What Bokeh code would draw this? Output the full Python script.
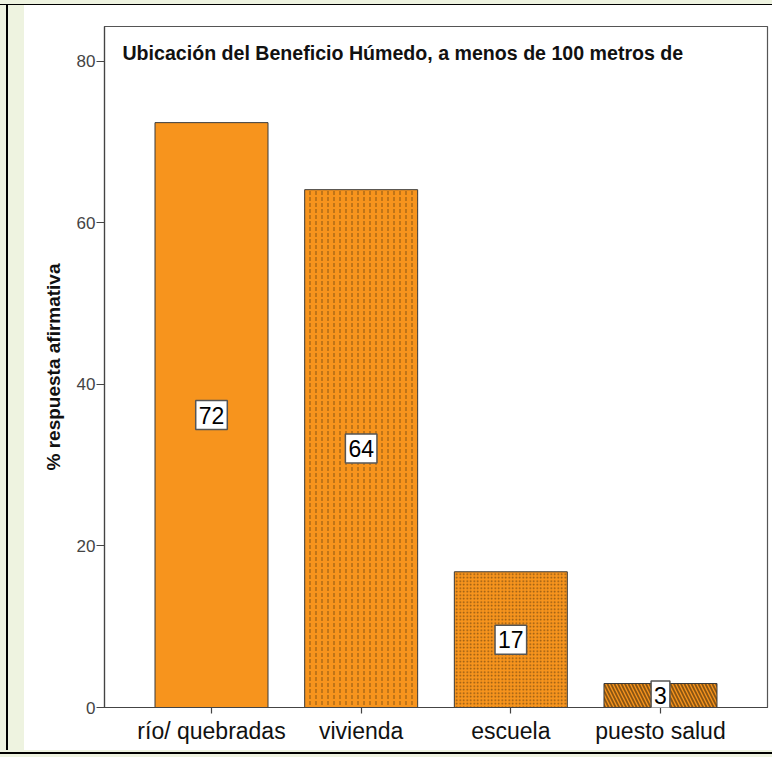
from bokeh.plotting import figure
from bokeh.models import ColumnDataSource, Label, FactorRange, Spacer
from bokeh.layouts import row, column
from bokeh.embed import file_html
from bokeh.resources import INLINE

categories = ["río/ quebradas", "vivienda", "escuela", "puesto salud"]
values = [72.4, 64.1, 16.8, 2.97]
labels = ["72", "64", "17", "3"]
hatches = [" ", "vertical_dash", "dot", "left_diagonal_line"]
hatch_scales = [12, 6, 3.5, 7]
hatch_weights = [1, 1.0, 1.1, 1.8]
y_ticks = [0, 20, 40, 60, 80]
title_text = "Ubicación del Beneficio Húmedo, a menos de 100 metros de"
y_label = "% respuesta afirmativa"

src = ColumnDataSource(dict(cat=categories, val=values,
                            hatch=hatches, hs=hatch_scales, hw=hatch_weights))

FONT = "Liberation Sans"
ORANGE = "#F7941D"
GREEN = "#EEF3E0"

p = figure(width=748, height=745, output_backend="svg", toolbar_location=None,
           x_range=FactorRange(factors=categories, range_padding=0.1075),
           y_range=(0, 84.3), min_border_left=80, min_border_right=5,
           min_border_top=21, min_border_bottom=43,
           background_fill_color="white", border_fill_color="white")
p.outline_line_color = "#555555"
p.outline_line_width = 1.2
p.xgrid.visible = False
p.ygrid.visible = False

p.vbar(x="cat", top="val", width=0.755, source=src, fill_color=ORANGE,
       line_color="#3a3a3a", line_width=1,
       hatch_pattern="hatch", hatch_scale="hs", hatch_weight="hw",
       hatch_color="#6e4510", hatch_alpha=0.8)

# value labels at half bar height, centred on each category (synthetic coords i+0.5)
for i, (v, t) in enumerate(zip(values, labels)):
    p.add_layout(Label(x=i + 0.5, y=v / 2, text=t, text_align="center",
                       text_baseline="middle", text_font=FONT, text_font_size="23px",
                       text_color="black", background_fill_color="white",
                       border_line_color="#555555", border_line_width=1.5,
                       padding=(3, 6)))

p.add_layout(Label(x=-0.095, y=81.0, text=title_text, text_font=FONT,
                   text_font_size="19.6px", text_font_style="bold",
                   text_baseline="middle", text_color="#111111"))

p.yaxis.ticker = y_ticks
p.yaxis.axis_label = y_label
p.yaxis.axis_label_text_font = FONT
p.yaxis.axis_label_text_font_size = "19px"
p.yaxis.axis_label_text_font_style = "bold"
p.yaxis.axis_label_text_color = "#111111"
p.yaxis.axis_label_standoff = 10
p.yaxis.major_label_text_font = FONT
p.yaxis.major_label_text_font_size = "17px"
p.yaxis.major_label_text_color = "#444444"
p.yaxis.minor_tick_line_color = None
p.yaxis.major_tick_in = 0
p.yaxis.major_tick_out = 8
p.yaxis.major_label_standoff = 1

p.xaxis.major_label_text_font = FONT
p.xaxis.major_label_text_font_size = "23px"
p.xaxis.major_label_text_color = "#111111"
p.xaxis.major_tick_in = 0
p.xaxis.major_tick_out = 6
p.xaxis.major_label_standoff = 4

for ax in (p.xaxis, p.yaxis):
    ax.axis_line_color = "#444444"
    ax.axis_line_width = 1.2
    ax.major_tick_line_color = "#444444"
    ax.major_tick_line_width = 1.2

top = Spacer(width=772, height=5, styles={
    "background": f"linear-gradient(to bottom, {GREEN} 0px, {GREEN} 4px, black 4px, black 5px)"})
side = Spacer(width=24, height=745, styles={
    "background": f"linear-gradient(to right, {GREEN} 0px, {GREEN} 6px, black 6px, black 8px, {GREEN} 8px)"})
bottom = Spacer(width=772, height=7, styles={
    "background": f"linear-gradient(to bottom, {GREEN} 0px, {GREEN} 2px, black 2px, black 4px, {GREEN} 4px)"})
layout = column(top, row(side, p), bottom)

open("out.html", "w").write(file_html(layout, INLINE))
